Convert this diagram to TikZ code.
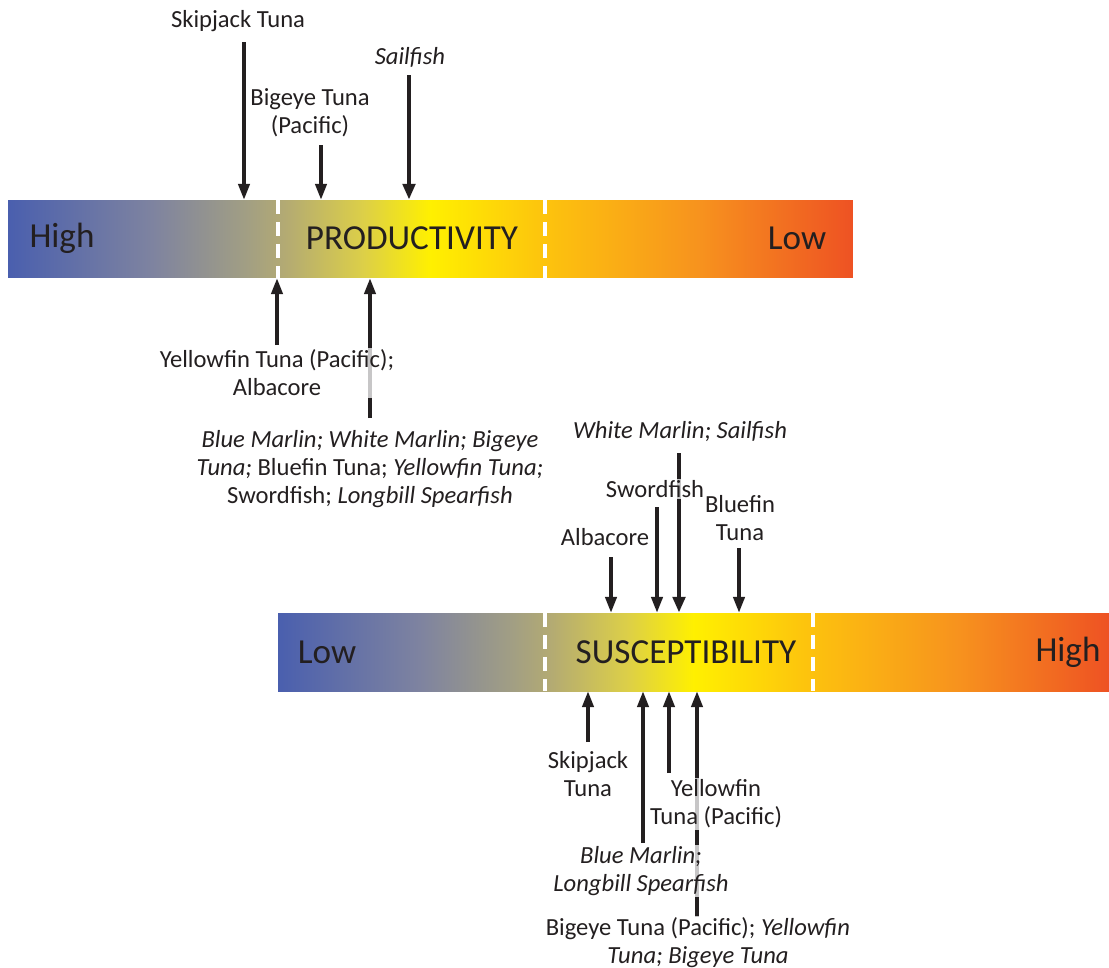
\documentclass[tikz,border=0pt]{standalone}
\usepackage{fontspec}
\setmainfont{Carlito}
\usepackage{xcolor}
\usepackage{tikz}
\usetikzlibrary{calc}
\usetikzlibrary{arrows.meta,positioning}

\definecolor{txt}{HTML}{231F20}
\definecolor{rb0}{HTML}{4A5FAE}
\definecolor{rb1}{HTML}{7E83A0}
\definecolor{rb2}{HTML}{A19E84}
\definecolor{rb3}{HTML}{B4AB72}
\definecolor{rb4}{HTML}{DCCF48}
\definecolor{rb5}{HTML}{FFF000}
\definecolor{rb6}{HTML}{FDC50D}
\definecolor{rb7}{HTML}{F7921E}
\definecolor{rb8}{HTML}{EE5223}
\pgfdeclarehorizontalshading{riskbar}{100bp}{color(0bp)=(rb0); color(25bp)=(rb0); color(33.5bp)=(rb1); color(39bp)=(rb2); color(41.5bp)=(rb3); color(46bp)=(rb4); color(50bp)=(rb5); color(56.5bp)=(rb6); color(66bp)=(rb7); color(75bp)=(rb8); color(100bp)=(rb8)}

\tikzset{
	bar/.style={shading=riskbar, minimum height=1.56cm, inner sep=0pt, draw=none},
	barlabel/.style={text=txt, font=\fontsize{20}{24}\selectfont},
	sep/.style={white, line width=2.3pt, dash pattern=on 8pt off 4.5pt},
	lbl/.style={text=txt, align=center, font=\fontsize{14}{16}\selectfont, inner sep=1pt, fill=white, fill opacity=0.75, text opacity=1},
	arr/.style={txt, line width=1.8pt, -{Triangle[length=9pt,width=6.5pt]}},
	thickarr/.style={arr, line width=2.8pt, -{Triangle[length=9pt,width=7pt]}}
}

\begin{document}
\begin{tikzpicture}[x=0.02cm, y=-0.02cm]
	\useasboundingbox (0,0) rectangle (1109,967);
	% productivity scale
	\node[bar, minimum width=16.9cm] (prod) at (430.5,239) {};
	\draw[sep] (278,200) -- (278,278);
	\draw[sep] (545,200) -- (545,278);
	\node[barlabel] (prodhigh) at (62,238) {High};
	\node[barlabel] (prodname) at (412,238) {PRODUCTIVITY};
	\node[barlabel] (prodlow) at (797,238) {Low};
	% susceptibility scale
	\node[bar, minimum width=16.62cm] (susc) at (693.5,652) {};
	\draw[sep] (545,613) -- (545,691);
	\draw[sep] (813,613) -- (813,691);
	\node[barlabel] (susclow) at (327,652) {Low};
	\node[barlabel] (suscname) at (686,652) {SUSCEPTIBILITY};
	\node[barlabel] (suschigh) at (1068,652) {High};

	% arrow start points
	\coordinate (p1) at (244,42);
	\coordinate (p2) at (321,145);
	\coordinate (p3) at (409,75);
	\coordinate (p4) at (277,345);
	\coordinate (p5) at (370,418);
	\coordinate (s1) at (679,453);
	\coordinate (s2) at (657,507);
	\coordinate (s3) at (611,557);
	\coordinate (s4) at (739,548);
	\coordinate (s5) at (588,742);
	\coordinate (s6) at (643,843);
	\coordinate (s7) at (669,773);
	\coordinate (s8) at (697,917);

	\draw[arr] (p1) -- (p1 |- prod.north);
	\draw[arr] (p2) -- (p2 |- prod.north);
	\draw[thickarr] (p3) -- (p3 |- prod.north);
	\draw[arr] (p4) -- (p4 |- prod.south);
	\draw[arr] (p5) -- (p5 |- prod.south);
	\draw[thickarr] (s1) -- (s1 |- susc.north);
	\draw[arr] (s2) -- (s2 |- susc.north);
	\draw[arr] (s3) -- (s3 |- susc.north);
	\draw[arr] (s4) -- (s4 |- susc.north);
	\draw[arr] (s5) -- (s5 |- susc.south);
	\draw[arr] (s6) -- (s6 |- susc.south);
	\draw[arr] (s7) -- (s7 |- susc.south);
	\draw[arr] (s8) -- (s8 |- susc.south);

	% species labels
	\node[lbl] (skj) at (238,21) {Skipjack Tuna};
	\node[lbl] (bet) at (310,113) {Bigeye Tuna\\(Pacific)};
	\node[lbl] (sai) at (410,57) {\itshape Sailfish};
	\node[lbl] (yftalb) at (277,373) {Yellowfin Tuna (Pacific);\\Albacore};
	\node[lbl] (many) at (370,469) {\itshape Blue Marlin; White Marlin; Bigeye\\\itshape Tuna;\upshape{} Bluefin Tuna; \itshape Yellowfin Tuna;\\Swordfish; \itshape Longbill Spearfish};
	\node[lbl] (wmsai) at (680,432) {\itshape White Marlin; Sailfish};
	\node[lbl] (swo) at (655,489) {Swordfish};
	\node[lbl] (alb) at (605,537) {Albacore};
	\node[lbl] (bft) at (740,518) {Bluefin\\Tuna};
	\node[lbl] (skjs) at (588,774) {Skipjack\\Tuna};
	\node[lbl] (bumspf) at (641,871) {\itshape Blue Marlin;\\\itshape Longbill Spearfish};
	\node[lbl] (yftp) at (716,804) {Yellowfin\\Tuna (Pacific)};
	\node[lbl] (betall) at (698,943) {Bigeye Tuna (Pacific); \itshape Yellowfin\\\itshape Tuna; Bigeye Tuna};
\end{tikzpicture}
\end{document}
